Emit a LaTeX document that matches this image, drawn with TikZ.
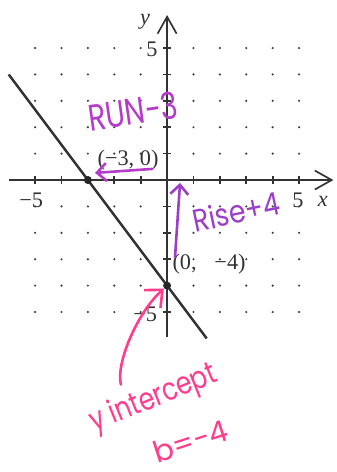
\documentclass[tikz,border=0pt]{standalone}
\usepackage{fontspec}
\setmainfont{Liberation Serif}
\newfontfamily\handfont{Poppins}
\usepackage{tikz}
\usetikzlibrary{arrows.meta,positioning,calc}
\definecolor{runpurple}{HTML}{B43CC8}
\definecolor{risepurple}{HTML}{9B3EC8}
\definecolor{inkpink}{HTML}{FF3D8C}

\tikzset{
  axis/.style={line width=0.9pt, black!80, -{Straight Barb[length=3.2mm,width=3.6mm]}},
  tickmark/.style={line width=0.9pt, black!80},
  lbl/.style={font=\fontsize{12}{14}\selectfont, inner sep=1pt, text=black!80},
  hand/.style={font=\handfont\fontsize{20}{22}\selectfont, inner sep=0pt},
  ptdot/.style={circle, fill=black!85, inner sep=0pt, minimum size=1.5mm},
  inkarrow/.style={line width=1.4pt, line cap=round, -{Straight Barb[length=1.8mm,width=3.4mm]}}
}

\begin{document}
\begin{tikzpicture}[x=0.5cm,y=0.5cm]
\useasboundingbox (-6.33,-11.06) rectangle (6.40,6.82);

% grid dots
\foreach \i in {-5,...,5}
  \foreach \j in {-5,...,5}
    \fill[black!75] (\i,\j) circle (0.65pt);

% axes
\draw[axis] (-6,0) -- (6.3,0);
\draw[axis] (0,-5.93) -- (0,6.25);
\foreach \t in {-5,...,-1,1,2,...,5} {
  \draw[tickmark] (\t,-0.15) -- (\t,0.15);
  \draw[tickmark] (-0.15,\t) -- (0.15,\t);
}
\node[lbl, font=\fontsize{12}{14}\selectfont\itshape] (xname) at (5.9,-0.8) {x};
\node[lbl, font=\fontsize{12}{14}\selectfont\itshape] (yname) at (-0.83,5.98) {y};
\node[lbl] (xneg) at (-5.15,-0.78) {−5};
\node[lbl] (xpos) at (4.96,-0.78) {5};
\node[lbl] (ypos) at (-0.57,4.96) {5};
\node[lbl] (yneg) at (-0.83,-5.08) {−5};

% the line through both intercepts
\coordinate (lstart) at (-6,4);
\coordinate (lend) at (1.5,-6);
\draw[line width=1.3pt, black!80] (lstart) -- (lend);

% intercepts
\node[ptdot] (xint) at (-3,0) {};
\node[ptdot] (yint) at (0,-4) {};
\node[lbl] (xintlbl) at (-1.48,0.76) {(−3, 0)};
\node[lbl] (yintlbl) at (1.59,-3.18) {(0,\hspace{0.8em}−4)};

% run
\node[hand, text=runpurple, rotate=8, xscale=0.78] (runlbl) at (-1.29,2.6) {RUN-3};
\coordinate (runtail) at (-0.57,0.42);
\coordinate (runtip) at (-2.73,0.27);
\draw[inkarrow, runpurple] (runtail) -- (runtip);

% rise
\node[hand, text=risepurple, rotate=12, xscale=0.85, font=\handfont\fontsize{17}{19}\selectfont] (riselbl) at (2.61,-1.2) {Rise+4};
\coordinate (risetail) at (0.30,-2.92);
\coordinate (risetip) at (0.49,-0.11);
\draw[inkarrow, risepurple] (risetail) -- (risetip);

% y intercept note
\node[hand, text=inkpink, rotate=22, xscale=0.8, font=\handfont\fontsize{17}{19}\selectfont] (bnote) at (-0.5,-8.3) {y intercept};
\node[hand, text=inkpink, rotate=18, font=\handfont\fontsize{16}{18}\selectfont] (bvalue) at (0.9,-9.9) {b=-4};
\coordinate (bendstart) at (-1.75,-7.75);
\draw[inkarrow, inkpink, -{Straight Barb[length=2.6mm,width=4.6mm]}]
  (bendstart) .. controls (-1.95,-6.9) and (-1.1,-5.0) .. (yint);
\end{tikzpicture}
\end{document}
